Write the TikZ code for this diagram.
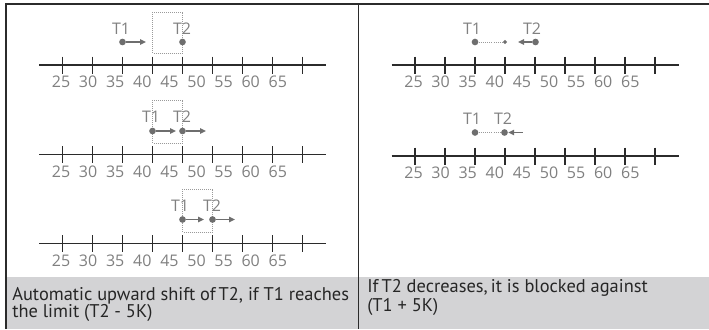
\documentclass[tikz,border=0pt]{standalone}
\usepackage{fontspec}
\setmainfont{Open Sans}
\newfontfamily\capfont{PT Sans}
\usetikzlibrary{arrows.meta,shapes.geometric}
\definecolor{axisdark}{HTML}{2B2B2B}
\definecolor{numgrey}{HTML}{808080}
\definecolor{markgrey}{HTML}{6E6E6E}
\definecolor{boxgrey}{HTML}{9A9A9A}
\definecolor{bandgrey}{HTML}{D3D3D5}

\begin{document}
\begin{tikzpicture}[
  x=0.75pt, y=-0.75pt,
  numline/.style={axisdark, line width=1.4pt},
  num/.style={text=numgrey, font=\fontsize{12}{14}\selectfont, inner sep=0pt},
  tlabel/.style={num},
  tdot/.style={circle, fill=markgrey, minimum size=5pt, inner sep=0pt},
  halt/.style={diamond, fill=markgrey, minimum size=3.5pt, inner sep=0pt},
  push/.style={-{Triangle[length=4.5pt,width=4pt]}, markgrey, line width=1.1pt},
  gap/.style={markgrey!70, densely dotted, line width=0.6pt},
  window/.style={boxgrey, densely dotted, line width=0.5pt},
  border/.style={axisdark, line width=1.3pt},
  caption/.style={font=\capfont\fontsize{13.8}{16}\selectfont, anchor=base west,
                  inner sep=0pt, text=black!85},
]
\useasboundingbox (0,0) rectangle (709,329);

% --- frame and caption band
\fill[bandgrey] (6,277) rectangle (709,329);
\draw[border] (6,329) -- (6,4) -- (709,4);
\draw[border] (358.5,4) -- (358.5,329);

% --- the five number lines (a-c left, d-e right)
\foreach \ln/\sx/\sy in {a/0/65, b/0/154.5, c/0/243.5, d/352.5/65, e/352.5/156} {
  \begin{scope}[shift={(\sx,\sy)}]
    \draw[numline] (39,0) -- (326,0);
    \foreach \i in {0,...,8}
      \draw[numline] (62.5+30*\i,-8.5) -- (62.5+30*\i,8.5);
    \foreach \v [count=\i from 0] in {25,30,...,65}
      \node[num] (\ln n\v) at (61+27.1*\i,17) {\v};
  \end{scope}
}

% --- left: T1 pushes T2 upwards
\draw[window] (152.5,12) rectangle (182.5,53);
\node[tdot] (a1) at (122.5,42) {};
\node[tdot] (a2) at (182.5,42) {};
\coordinate (a1e) at (146,42);
\node[tlabel] (a1l) at (121,29) {T1};
\node[tlabel] (a2l) at (182,29) {T2};
\draw[push] (a1) -- (a1e);

\draw[window] (152.5,100) rectangle (182.5,143);
\node[tdot] (b1) at (152.5,131) {};
\node[tdot] (b2) at (182.5,131) {};
\coordinate (b1e) at (176,131);
\coordinate (b2e) at (206,131);
\node[tlabel] (b1l) at (151,117) {T1};
\node[tlabel] (b2l) at (182,117) {T2};
\draw[push] (b1) -- (b1e);
\draw[push] (b2) -- (b2e);

\draw[window] (182.5,189) rectangle (212.5,232);
\node[tdot] (c1) at (182.5,219.5) {};
\node[tdot] (c2) at (212.5,219.5) {};
\coordinate (c1e) at (204,219.5);
\coordinate (c2e) at (235,219.5);
\node[tlabel] (c1l) at (180,205.5) {T1};
\node[tlabel] (c2l) at (212,205.5) {T2};
\draw[push] (c1) -- (c1e);
\draw[push] (c2) -- (c2e);

% --- right: T2 blocked at T1 + 5K
\node[tdot] (d1) at (475,42) {};
\node[halt] (dh) at (505,42) {};
\node[tdot] (d2) at (535.5,42) {};
\coordinate (d2e) at (518,42);
\node[tlabel] (d1l) at (472,29) {T1};
\node[tlabel] (d2l) at (532,29) {T2};
\draw[gap] (d1) -- (dh);
\draw[push] (d2) -- (d2e);

\node[tdot] (e1) at (475,132.5) {};
\node[tdot] (e2) at (504.5,132.5) {};
\coordinate (e2s) at (522.5,132.5);
\node[tlabel] (e1l) at (472,119) {T1};
\node[tlabel] (e2l) at (503,119) {T2};
\draw[gap] (e1) -- (e2);
\draw[push] (e2s) -- (e2);

% --- captions
\node[caption] (capL1) at (12,300) {Automatic upward shift of\,T2, if T1 reaches};
\node[caption] (capL2) at (12,317) {the limit (T2 - 5K)};
\node[caption] (capR1) at (367,292) {If\,T2 decreases,\,it is blocked against};
\node[caption] (capR2) at (367,311) {(T1 + 5K)};
\end{tikzpicture}
\end{document}
